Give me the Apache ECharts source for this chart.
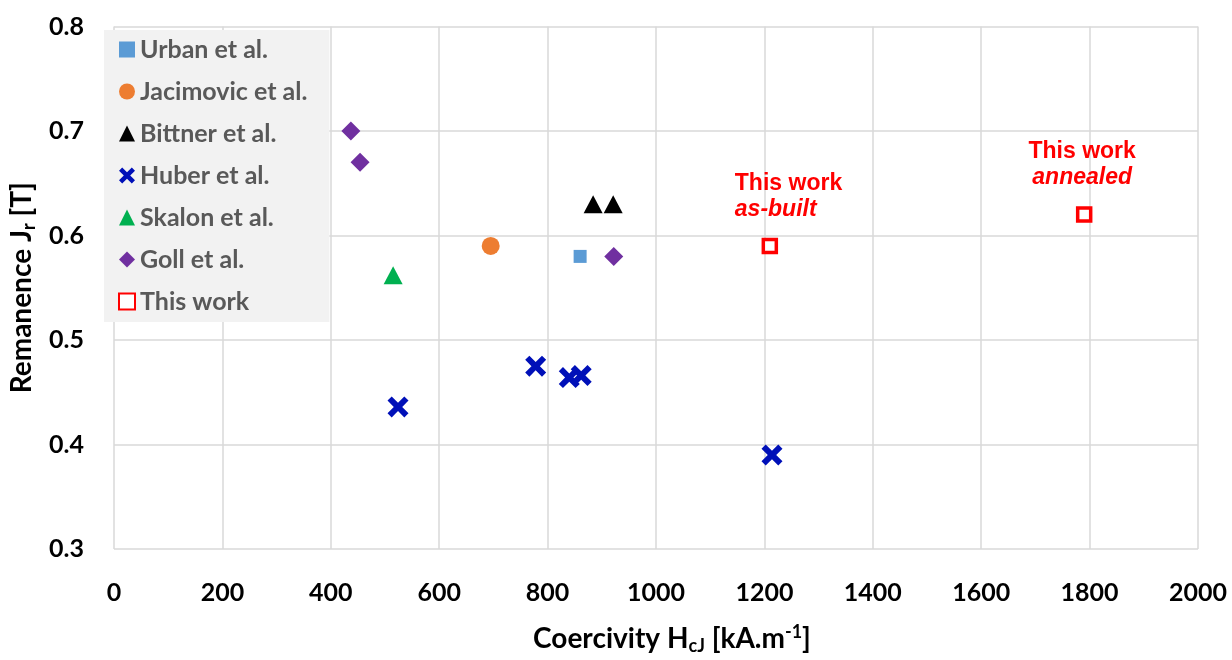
<!DOCTYPE html>
<html>
<head>
<meta charset="utf-8">
<script src="https://cdn.jsdelivr.net/npm/echarts@6/dist/echarts.min.js"></script>
<style>
  html, body { margin: 0; padding: 0; background: #fff; }
  #chart { width: 1232px; height: 660px; }
</style>
</head>
<body>
<div id="chart"></div>
<script>
// Coercivity HcJ (kA/m) and remanence Jr (T) per source
const urbanX = [860];
const urbanY = [0.58];
const jacimovicX = [695];
const jacimovicY = [0.59];
const bittnerX = [884, 921];
const bittnerY = [0.63, 0.63];
const huberX = [524, 778, 840, 862, 1214];
const huberY = [0.436, 0.475, 0.464, 0.466, 0.39];
const skalonX = [515];
const skalonY = [0.562];
const gollX = [437, 454, 922];
const gollY = [0.70, 0.67, 0.58];
const thisWorkX = [1210, 1790];
const thisWorkY = [0.59, 0.62];
const thisWorkState = ['as-built', 'annealed'];

const xTicks = { min: 0, max: 2000, interval: 200 };
const yTicks = { min: 0.3, max: 0.8, interval: 0.1 };

const UI_FONT = 'Lato';
const LABEL_FONT = 'Liberation Sans';

const crossPath = 'path://M2,0 L5,3 L8,0 L10,2 L7,5 L10,8 L8,10 L5,7 L2,10 L0,8 L3,5 L0,2 Z';

function pairs(xs, ys) {
  return xs.map((x, i) => [x, ys[i]]);
}

const thisWorkLabels = [
  { align: 'left', offset: [-35, -10] },
  { align: 'center', offset: [-2, -11] }
];

const thisWorkData = pairs(thisWorkX, thisWorkY).map((p, i) => ({
  value: p,
  label: {
    show: true,
    position: 'top',
    align: thisWorkLabels[i].align,
    offset: thisWorkLabels[i].offset,
    formatter: '{a|This work}\n{b|' + thisWorkState[i] + '}',
    rich: {
      a: { fontFamily: LABEL_FONT, fontWeight: 'bold', fontSize: 23, color: '#ff0000', lineHeight: 26, align: thisWorkLabels[i].align },
      b: { fontFamily: LABEL_FONT, fontWeight: 'bold', fontStyle: 'italic', fontSize: 23, color: '#ff0000', lineHeight: 26, align: thisWorkLabels[i].align }
    }
  }
}));

const chart = echarts.init(document.getElementById('chart'), null, { renderer: 'canvas' });

const axisNameRich = {
  a: { fontFamily: UI_FONT, fontWeight: 'bold', fontSize: 28, color: '#000', lineHeight: 32 },
  sub: { fontFamily: UI_FONT, fontWeight: 'bold', fontSize: 18, color: '#000', lineHeight: 12, verticalAlign: 'bottom' },
  sup: { fontFamily: UI_FONT, fontWeight: 'bold', fontSize: 18, color: '#000', lineHeight: 16, verticalAlign: 'top' }
};

const markerStyle = color => ({ color: color, opacity: 1 });

chart.setOption({
  animation: false,
  backgroundColor: '#ffffff',
  grid: { left: 114, right: 34, top: 26.5, bottom: 111, containLabel: false },
  legend: {
    orient: 'vertical',
    left: 104,
    top: 30,
    backgroundColor: '#f2f2f2',
    padding: [7, 22, 8, 14],
    itemWidth: 16,
    itemHeight: 16,
    itemGap: 17,
    textStyle: { fontFamily: UI_FONT, fontWeight: 'bold', fontSize: 25, color: '#595959', lineHeight: 24 },
    data: [
      { name: 'Urban et al.', icon: 'rect' },
      { name: 'Jacimovic et al.', icon: 'circle' },
      { name: 'Bittner et al.', icon: 'triangle' },
      { name: 'Huber et al.', icon: crossPath },
      { name: 'Skalon et al.', icon: 'triangle' },
      { name: 'Goll et al.', icon: 'diamond' },
      { name: 'This work', icon: 'rect' }
    ]
  },
  xAxis: {
    type: 'value',
    min: xTicks.min, max: xTicks.max, interval: xTicks.interval,
    axisLine: { show: false },
    axisTick: { show: false },
    splitLine: { show: true, lineStyle: { color: '#d9d9d9', width: 1.5 } },
    axisLabel: {
      fontFamily: UI_FONT, fontWeight: 'bold', fontSize: 25, color: '#000', margin: 31,
      formatter: v => String(v)
    },
    name: '{a|Coercivity H}{sub|cJ}{a| [kA.m}{sup|-1}{a|]}',
    nameLocation: 'middle',
    nameGap: 74,
    nameTextStyle: { rich: axisNameRich, padding: [0, 0, 0, 32] }
  },
  yAxis: {
    type: 'value',
    min: yTicks.min, max: yTicks.max, interval: yTicks.interval,
    axisLine: { show: false },
    axisTick: { show: false },
    splitLine: { show: true, lineStyle: { color: '#d9d9d9', width: 1.5 } },
    axisLabel: {
      fontFamily: UI_FONT, fontWeight: 'bold', fontSize: 25, color: '#000', margin: 30,
      formatter: v => v.toFixed(1)
    },
    name: '{a|Remanence J}{sub|r}{a| [T]}',
    nameLocation: 'middle',
    nameGap: 72,
    nameTextStyle: { rich: axisNameRich }
  },
  series: [
    {
      name: 'Urban et al.', type: 'scatter', symbol: 'rect', symbolSize: 13,
      itemStyle: markerStyle('#5b9bd5'), data: pairs(urbanX, urbanY)
    },
    {
      name: 'Jacimovic et al.', type: 'scatter', symbol: 'circle', symbolSize: 18,
      itemStyle: markerStyle('#ed7d31'), data: pairs(jacimovicX, jacimovicY)
    },
    {
      name: 'Bittner et al.', type: 'scatter', symbol: 'triangle', symbolSize: [19, 18],
      itemStyle: markerStyle('#000000'), data: pairs(bittnerX, bittnerY)
    },
    {
      name: 'Huber et al.', type: 'scatter', symbol: crossPath, symbolSize: 21,
      itemStyle: markerStyle('#0010b8'), data: pairs(huberX, huberY)
    },
    {
      name: 'Skalon et al.', type: 'scatter', symbol: 'triangle', symbolSize: [19, 18],
      itemStyle: markerStyle('#00b050'), data: pairs(skalonX, skalonY)
    },
    {
      name: 'Goll et al.', type: 'scatter', symbol: 'diamond', symbolSize: 19,
      itemStyle: markerStyle('#7030a0'), data: pairs(gollX, gollY)
    },
    {
      name: 'This work', type: 'scatter', symbol: 'rect', symbolSize: 13,
      itemStyle: { color: '#ffffff', borderColor: '#ff0000', borderWidth: 3.5, opacity: 1 },
      data: thisWorkData
    }
  ]
});
</script>
</body>
</html>
